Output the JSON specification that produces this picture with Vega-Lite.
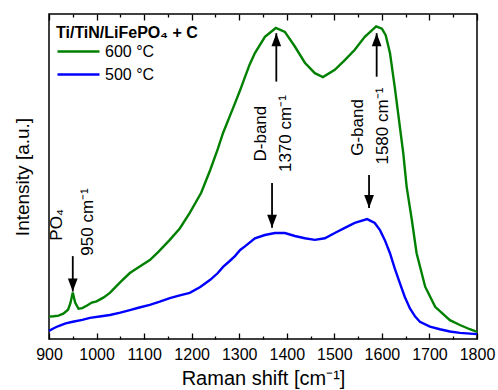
{
  "$schema": "https://vega.github.io/schema/vega-lite/v6.json",
  "width": 428,
  "height": 325,
  "autosize": {"type": "none"},
  "padding": {"left": 49, "top": 14, "right": 21, "bottom": 51},
  "background": "white",
  "config": {
    "font": "Liberation Sans",
    "view": {"stroke": "black", "strokeWidth": 1.5},
    "axis": {"grid": false, "domain": false, "tickColor": "black", "labelColor": "black", "titleColor": "black", "tickWidth": 1.3}
  },
  "datasets": {
    "spectra": [
      {"sample": "600 °C", "wn": 900, "intensity": 6.9},
      {"sample": "600 °C", "wn": 910, "intensity": 7.0},
      {"sample": "600 °C", "wn": 920, "intensity": 7.2},
      {"sample": "600 °C", "wn": 930, "intensity": 7.8},
      {"sample": "600 °C", "wn": 940, "intensity": 9.0},
      {"sample": "600 °C", "wn": 945, "intensity": 11.0},
      {"sample": "600 °C", "wn": 950, "intensity": 14.3},
      {"sample": "600 °C", "wn": 955, "intensity": 11.2},
      {"sample": "600 °C", "wn": 962, "intensity": 9.3},
      {"sample": "600 °C", "wn": 970, "intensity": 9.5},
      {"sample": "600 °C", "wn": 980, "intensity": 10.3},
      {"sample": "600 °C", "wn": 990, "intensity": 11.2},
      {"sample": "600 °C", "wn": 1000, "intensity": 11.6},
      {"sample": "600 °C", "wn": 1015, "intensity": 12.8},
      {"sample": "600 °C", "wn": 1028, "intensity": 14.2},
      {"sample": "600 °C", "wn": 1050, "intensity": 17.5},
      {"sample": "600 °C", "wn": 1070, "intensity": 20.3},
      {"sample": "600 °C", "wn": 1090, "intensity": 22.2},
      {"sample": "600 °C", "wn": 1112, "intensity": 24.3},
      {"sample": "600 °C", "wn": 1130, "intensity": 26.8},
      {"sample": "600 °C", "wn": 1154, "intensity": 30.5},
      {"sample": "600 °C", "wn": 1175, "intensity": 34.0},
      {"sample": "600 °C", "wn": 1196, "intensity": 38.8},
      {"sample": "600 °C", "wn": 1220, "intensity": 45.0},
      {"sample": "600 °C", "wn": 1239, "intensity": 52.0},
      {"sample": "600 °C", "wn": 1255, "intensity": 58.5},
      {"sample": "600 °C", "wn": 1266, "intensity": 63.4},
      {"sample": "600 °C", "wn": 1280, "intensity": 68.5},
      {"sample": "600 °C", "wn": 1291, "intensity": 72.5},
      {"sample": "600 °C", "wn": 1302, "intensity": 76.6},
      {"sample": "600 °C", "wn": 1312, "intensity": 80.6},
      {"sample": "600 °C", "wn": 1322, "intensity": 84.5},
      {"sample": "600 °C", "wn": 1333, "intensity": 88.0},
      {"sample": "600 °C", "wn": 1354, "intensity": 93.0},
      {"sample": "600 °C", "wn": 1377, "intensity": 95.7},
      {"sample": "600 °C", "wn": 1396, "intensity": 94.5},
      {"sample": "600 °C", "wn": 1417, "intensity": 90.0},
      {"sample": "600 °C", "wn": 1438, "intensity": 85.0},
      {"sample": "600 °C", "wn": 1459, "intensity": 81.8},
      {"sample": "600 °C", "wn": 1476, "intensity": 80.6},
      {"sample": "600 °C", "wn": 1501, "intensity": 82.8},
      {"sample": "600 °C", "wn": 1522, "intensity": 85.8},
      {"sample": "600 °C", "wn": 1543, "intensity": 89.0},
      {"sample": "600 °C", "wn": 1564, "intensity": 93.0},
      {"sample": "600 °C", "wn": 1588, "intensity": 96.2},
      {"sample": "600 °C", "wn": 1600, "intensity": 95.5},
      {"sample": "600 °C", "wn": 1608, "intensity": 93.5},
      {"sample": "600 °C", "wn": 1617, "intensity": 88.0},
      {"sample": "600 °C", "wn": 1627, "intensity": 77.6},
      {"sample": "600 °C", "wn": 1645, "intensity": 57.1},
      {"sample": "600 °C", "wn": 1652, "intensity": 46.9},
      {"sample": "600 °C", "wn": 1663, "intensity": 36.6},
      {"sample": "600 °C", "wn": 1673, "intensity": 26.4},
      {"sample": "600 °C", "wn": 1691, "intensity": 16.1},
      {"sample": "600 °C", "wn": 1712, "intensity": 9.9},
      {"sample": "600 °C", "wn": 1743, "intensity": 5.8},
      {"sample": "600 °C", "wn": 1764, "intensity": 4.3},
      {"sample": "600 °C", "wn": 1785, "intensity": 3.0},
      {"sample": "600 °C", "wn": 1800, "intensity": 2.2},
      {"sample": "500 °C", "wn": 900, "intensity": 2.5},
      {"sample": "500 °C", "wn": 910, "intensity": 3.3},
      {"sample": "500 °C", "wn": 920, "intensity": 4.0},
      {"sample": "500 °C", "wn": 935, "intensity": 4.8},
      {"sample": "500 °C", "wn": 950, "intensity": 5.3},
      {"sample": "500 °C", "wn": 970, "intensity": 5.9},
      {"sample": "500 °C", "wn": 986, "intensity": 6.5},
      {"sample": "500 °C", "wn": 1010, "intensity": 7.0},
      {"sample": "500 °C", "wn": 1028, "intensity": 7.4},
      {"sample": "500 °C", "wn": 1050, "intensity": 8.1},
      {"sample": "500 °C", "wn": 1070, "intensity": 8.9},
      {"sample": "500 °C", "wn": 1090, "intensity": 9.7},
      {"sample": "500 °C", "wn": 1112, "intensity": 10.5},
      {"sample": "500 °C", "wn": 1133, "intensity": 11.5},
      {"sample": "500 °C", "wn": 1154, "intensity": 12.6},
      {"sample": "500 °C", "wn": 1175, "intensity": 13.4},
      {"sample": "500 °C", "wn": 1196, "intensity": 14.2},
      {"sample": "500 °C", "wn": 1218, "intensity": 16.0},
      {"sample": "500 °C", "wn": 1239, "intensity": 18.2},
      {"sample": "500 °C", "wn": 1255, "intensity": 20.3},
      {"sample": "500 °C", "wn": 1266, "intensity": 22.2},
      {"sample": "500 °C", "wn": 1280, "intensity": 24.0},
      {"sample": "500 °C", "wn": 1291, "intensity": 25.5},
      {"sample": "500 °C", "wn": 1302, "intensity": 27.4},
      {"sample": "500 °C", "wn": 1312, "intensity": 28.5},
      {"sample": "500 °C", "wn": 1333, "intensity": 31.0},
      {"sample": "500 °C", "wn": 1354, "intensity": 32.0},
      {"sample": "500 °C", "wn": 1375, "intensity": 32.6},
      {"sample": "500 °C", "wn": 1396, "intensity": 32.6},
      {"sample": "500 °C", "wn": 1417, "intensity": 31.7},
      {"sample": "500 °C", "wn": 1438, "intensity": 31.0},
      {"sample": "500 °C", "wn": 1459, "intensity": 30.5},
      {"sample": "500 °C", "wn": 1480, "intensity": 31.0},
      {"sample": "500 °C", "wn": 1501, "intensity": 32.6},
      {"sample": "500 °C", "wn": 1522, "intensity": 34.2},
      {"sample": "500 °C", "wn": 1543, "intensity": 35.7},
      {"sample": "500 °C", "wn": 1569, "intensity": 36.9},
      {"sample": "500 °C", "wn": 1585, "intensity": 35.7},
      {"sample": "500 °C", "wn": 1596, "intensity": 33.5},
      {"sample": "500 °C", "wn": 1606, "intensity": 30.5},
      {"sample": "500 °C", "wn": 1617, "intensity": 26.4},
      {"sample": "500 °C", "wn": 1627, "intensity": 21.7},
      {"sample": "500 °C", "wn": 1638, "intensity": 17.1},
      {"sample": "500 °C", "wn": 1648, "intensity": 13.0},
      {"sample": "500 °C", "wn": 1659, "intensity": 9.4},
      {"sample": "500 °C", "wn": 1670, "intensity": 6.9},
      {"sample": "500 °C", "wn": 1680, "intensity": 5.3},
      {"sample": "500 °C", "wn": 1701, "intensity": 3.8},
      {"sample": "500 °C", "wn": 1722, "intensity": 3.0},
      {"sample": "500 °C", "wn": 1743, "intensity": 2.3},
      {"sample": "500 °C", "wn": 1764, "intensity": 1.9},
      {"sample": "500 °C", "wn": 1800, "intensity": 1.5}
    ],
    "arrows": [
      {"wn": 950, "from": 25.5, "to": 14.6, "dir": "down"},
      {"wn": 1369, "from": 48, "to": 34.2, "dir": "down"},
      {"wn": 1573, "from": 50.5, "to": 40.3, "dir": "down"},
      {"wn": 1378, "from": 79.2, "to": 94.1, "dir": "up"},
      {"wn": 1589, "from": 80.7, "to": 94.1, "dir": "up"}
    ],
    "notes": [
      {"wn": 917, "y": 35.1, "text": "PO₄"},
      {"wn": 981, "y": 36, "text": "950 cm⁻¹"},
      {"wn": 1345, "y": 63.2, "text": "D-band"},
      {"wn": 1399, "y": 63.2, "text": "1370 cm⁻¹"},
      {"wn": 1549, "y": 65.1, "text": "G-band"},
      {"wn": 1602, "y": 65.5, "text": "1580 cm⁻¹"}
    ]
  },
  "resolve": {"axis": {"x": "independent"}},
  "layer": [
    {
      "data": {"name": "spectra"},
      "mark": {"type": "line", "strokeWidth": 2.4},
      "encoding": {
        "x": {
          "field": "wn", "type": "quantitative",
          "scale": {"domain": [900, 1800], "nice": false, "zero": false},
          "axis": {
            "orient": "bottom",
            "values": [900, 950, 1000, 1050, 1100, 1150, 1200, 1250, 1300, 1350, 1400, 1450, 1500, 1550, 1600, 1650, 1700, 1750, 1800],
            "labelExpr": "datum.value % 100 === 0 ? datum.label : ''",
            "format": "d",
            "tickSize": {"condition": {"test": "datum.value % 100 === 0", "value": -6}, "value": -3},
            "labelPadding": 13,
            "labelFontSize": 16,
            "labelFlush": false,
            "labelOverlap": false,
            "title": "Raman shift [cm⁻¹]",
            "titleFontSize": 20,
            "titleFontWeight": "normal",
            "titlePadding": 3
          }
        },
        "y": {
          "field": "intensity", "type": "quantitative",
          "scale": {"domain": [0, 100], "nice": false, "zero": false},
          "axis": {"orient": "left", "labels": false, "ticks": false, "domain": false, "title": "Intensity [a.u.]", "titleFontSize": 19, "titleFontWeight": "normal", "titlePadding": 17}
        },
        "color": {
          "field": "sample", "type": "nominal",
          "scale": {"domain": ["600 °C", "500 °C"], "range": ["#008000", "#0000ff"]},
          "legend": {
            "title": "Ti/TiN/LiFePO₄ + C",
            "orient": "none", "legendX": 7, "legendY": 11,
            "padding": 0,
            "titleFontSize": 16, "titleFontWeight": "bold", "titleColor": "black", "titlePadding": 2,
            "labelFontSize": 16, "labelColor": "black",
            "symbolType": "M-1,0L5,0", "symbolSize": 196, "symbolStrokeWidth": 2.5,
            "labelOffset": 32, "rowPadding": 6
          }
        }
      }
    },
    {
      "data": {"name": "arrows"},
      "mark": {"type": "rule", "color": "black", "strokeWidth": 1.8},
      "encoding": {
        "x": {
          "field": "wn", "type": "quantitative",
          "axis": {
            "orient": "top",
            "values": [900, 950, 1000, 1050, 1100, 1150, 1200, 1250, 1300, 1350, 1400, 1450, 1500, 1550, 1600, 1650, 1700, 1750, 1800],
            "labels": false,
            "tickSize": {"condition": {"test": "datum.value % 100 === 0", "value": -6}, "value": -3},
            "title": null
          }
        },
        "y": {"field": "from", "type": "quantitative"},
        "y2": {"field": "to"}
      }
    },
    {
      "data": {"name": "arrows"},
      "mark": {"type": "point", "filled": true, "color": "black", "opacity": 1, "strokeWidth": 0, "size": 169},
      "encoding": {
        "x": {"field": "wn", "type": "quantitative", "axis": null},
        "y": {"field": "to", "type": "quantitative"},
        "shape": {
          "field": "dir", "type": "nominal", "legend": null,
          "scale": {"domain": ["down", "up"], "range": ["M-0.75,-2L0.75,-2L0,0Z", "M-0.75,2L0.75,2L0,0Z"]}
        }
      }
    },
    {
      "data": {"name": "notes"},
      "mark": {"type": "text", "angle": 270, "align": "center", "baseline": "middle", "fontSize": 17, "color": "black"},
      "encoding": {
        "x": {"field": "wn", "type": "quantitative", "axis": null},
        "y": {"field": "y", "type": "quantitative"},
        "text": {"field": "text"}
      }
    }
  ]
}
